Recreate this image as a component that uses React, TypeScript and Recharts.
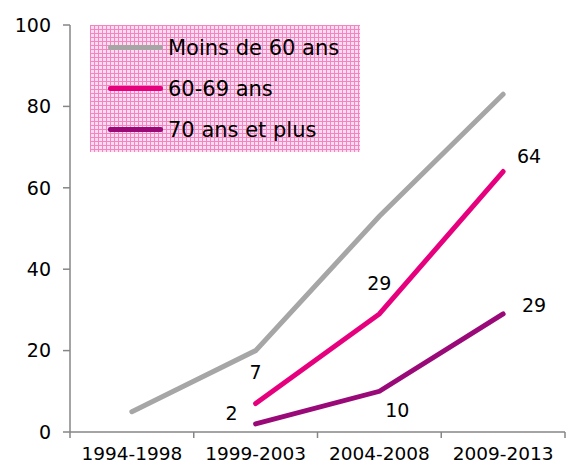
import React from "react";
import { LineChart, Line, XAxis, YAxis, LabelList } from "recharts";

const categories = ["1994-1998", "1999-2003", "2004-2008", "2009-2013"];
const moins60 = [5, 20, 53, 83];
const s6069: (number | null)[] = [null, 7, 29, 64];
const s70plus: (number | null)[] = [null, 2, 10, 29];
const yTicks = [0, 20, 40, 60, 80, 100];

const data = categories.map((c, i) => ({
  x: i + 0.5,
  cat: c,
  a: moins60[i],
  b: s6069[i],
  c: s70plus[i],
}));

const xTicks: number[] = [];
for (let i = 0; i <= categories.length; i++) {
  xTicks.push(i);
  if (i < categories.length) xTicks.push(i + 0.5);
}

const FONT = "'DejaVu Sans', Verdana, sans-serif";
const GRAY = "#a6a6a6";
const PINK = "#e6007e";
const PURPLE = "#990a78";
const AXIS = "#868686";

const XTick = (props: any) => {
  const { x, y, payload } = props;
  const v = payload.value;
  if (Number.isInteger(v)) {
    return <line x1={x} x2={x} y1={y - 8} y2={y - 2} stroke={AXIS} strokeWidth={1.5} />;
  }
  const idx = Math.floor(v);
  return (
    <text x={x} y={y + 20} textAnchor="middle" fontSize={18.5} fontFamily={FONT} fill="#000">
      {categories[idx]}
    </text>
  );
};

const makeLabel = (offsets: Record<number, [number, number]>) => (props: any) => {
  const { x, y, value, index } = props;
  if (value == null) return null;
  const off = offsets[index];
  if (!off) return null;
  return (
    <text
      x={x + off[0]}
      y={y + off[1]}
      textAnchor="middle"
      dominantBaseline="central"
      fontSize={19}
      fontFamily={FONT}
      fill="#000"
    >
      {value}
    </text>
  );
};

const pinkLabel = makeLabel({ 1: [0, -32], 2: [0, -31], 3: [26, -16] });
const purpleLabel = makeLabel({ 1: [-24, -11], 2: [18, 19], 3: [31, -9] });

const legendItems = [
  { label: "Moins de 60 ans", color: GRAY },
  { label: "60-69 ans", color: PINK },
  { label: "70 ans et plus", color: PURPLE },
];

const LegendBox = () => (
  <div
    style={{
      position: "absolute",
      left: 90,
      top: 25,
      width: 270,
      height: 127,
      backgroundColor: "#fcdcee",
      backgroundImage:
        "linear-gradient(#f285c2 1px, transparent 1px), linear-gradient(90deg, #f285c2 1px, transparent 1px)",
      backgroundSize: "4px 4px",
      boxSizing: "border-box",
      paddingTop: 2,
    }}
  >
    {legendItems.map((it) => (
      <div key={it.label} style={{ display: "flex", alignItems: "center", height: 41 }}>
        <div style={{ width: 55, height: 5, background: it.color, marginLeft: 18, marginRight: 5, borderRadius: 2 }} />
        <span style={{ fontFamily: FONT, fontSize: 21, color: "#000", whiteSpace: "nowrap" }}>{it.label}</span>
      </div>
    ))}
  </div>
);

export default function App() {
  return (
    <div style={{ position: "absolute", left: 0, top: 0, width: 568, height: 463, background: "#fff" }}>
      <LineChart width={568} height={463} data={data} margin={{ top: 25, right: 3, bottom: 0, left: 0 }}>
        <XAxis
          dataKey="x"
          type="number"
          domain={[0, categories.length]}
          ticks={xTicks}
          interval={0}
          tick={<XTick />}
          tickLine={false}
          axisLine={{ stroke: AXIS, strokeWidth: 1.5 }}
          height={31}
        />
        <YAxis
          domain={[0, 100]}
          ticks={yTicks}
          interval={0}
          width={70}
          tick={{ fontSize: 19, fontFamily: FONT, fill: "#000", dx: -10 }}
          tickSize={7}
          tickLine={{ stroke: AXIS, strokeWidth: 1.5 }}
          axisLine={{ stroke: AXIS, strokeWidth: 1.5 }}
        />
        <Line dataKey="a" stroke={GRAY} strokeWidth={5} dot={false} isAnimationActive={false} strokeLinecap="round" />
        <Line dataKey="b" stroke={PINK} strokeWidth={5} dot={false} isAnimationActive={false} strokeLinecap="round">
          <LabelList dataKey="b" content={pinkLabel} />
        </Line>
        <Line dataKey="c" stroke={PURPLE} strokeWidth={5} dot={false} isAnimationActive={false} strokeLinecap="round">
          <LabelList dataKey="c" content={purpleLabel} />
        </Line>
      </LineChart>
      <LegendBox />
    </div>
  );
}
